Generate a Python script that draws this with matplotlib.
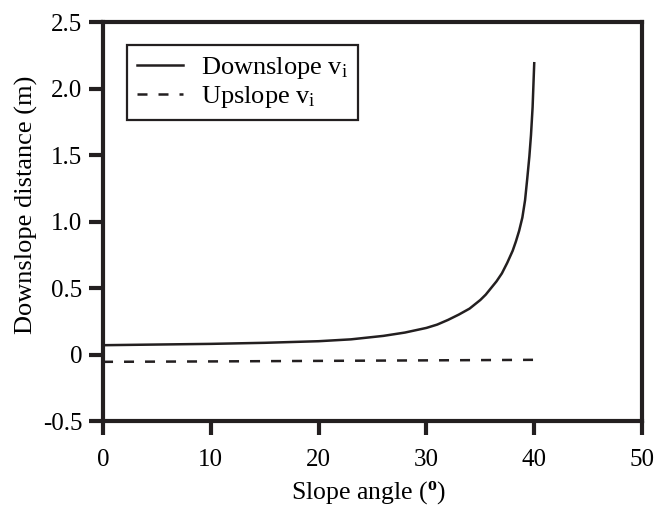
import matplotlib
matplotlib.use("Agg")
import matplotlib.pyplot as plt

plt.rcParams['font.family'] = ['Liberation Serif', 'DejaVu Serif']
plt.rcParams['mathtext.fontset'] = 'custom'
plt.rcParams['mathtext.rm'] = 'Liberation Serif'
plt.rcParams['mathtext.it'] = 'Liberation Serif:italic'
plt.rcParams['mathtext.bf'] = 'Liberation Serif:bold'

# values
down_x = [0, 5, 10, 15, 20, 23, 26, 28, 30, 31, 32, 33, 34, 35, 35.5, 36,
          36.5, 37, 37.5, 38, 38.3, 38.6, 38.9, 39.15, 39.35, 39.55, 39.7,
          39.85, 40]
down_y = [0.07, 0.075, 0.08, 0.088, 0.10, 0.114, 0.14, 0.165, 0.20, 0.225,
          0.26, 0.30, 0.345, 0.41, 0.45, 0.50, 0.55, 0.61, 0.69, 0.78, 0.85,
          0.93, 1.03, 1.16, 1.32, 1.49, 1.65, 1.86, 2.19]
up_x = [0, 10, 20, 30, 40]
up_y = [-0.055, -0.052, -0.048, -0.044, -0.04]

x_ticks = [0, 10, 20, 30, 40, 50]
y_ticks = [-0.5, 0, 0.5, 1.0, 1.5, 2.0, 2.5]
y_tick_labels = ['-0.5', '0', '0.5', '1.0', '1.5', '2.0', '2.5']

ink = '#231f20'

fig = plt.figure(figsize=(6.66, 5.07), dpi=100)
ax = fig.add_axes([0.1547, 0.1696, 0.8093, 0.787])

ax.plot(down_x, down_y, color=ink, lw=1.8, label=r'Downslope v$_\mathrm{i}$')
ax.plot(up_x, up_y, color=ink, lw=1.8, dashes=(4, 4.4),
        label=r'Upslope v$_\mathrm{i}$')

ax.set_xlim(0, 50)
ax.set_ylim(-0.5, 2.5)
ax.set_xticks(x_ticks)
ax.set_yticks(y_ticks)
ax.set_yticklabels(y_tick_labels)
ax.tick_params(direction='out', length=10, width=3, labelsize=18, color=ink)
ax.tick_params(axis='x', pad=10)
ax.tick_params(axis='y', pad=5)
for s in ax.spines.values():
    s.set_linewidth(3)
    s.set_color(ink)

ax.set_xlabel(r'Slope angle ($^{\mathbf{o}}$)', fontsize=18.5)
ax.set_ylabel('Downslope distance (m)', fontsize=19)
ax.xaxis.set_label_coords(0.493, -0.145)
ax.yaxis.set_label_coords(-0.12, 0.543)

leg = ax.legend(loc='upper left', bbox_to_anchor=(0.044, 0.943), fontsize=19,
                frameon=True, fancybox=False, framealpha=1, handlelength=1.75,
                handletextpad=0.65, borderpad=0.4, labelspacing=0.1,
                borderaxespad=0)
leg.get_frame().set_edgecolor(ink)
leg.get_frame().set_linewidth(1.6)

fig.savefig('out.png', dpi=100)
